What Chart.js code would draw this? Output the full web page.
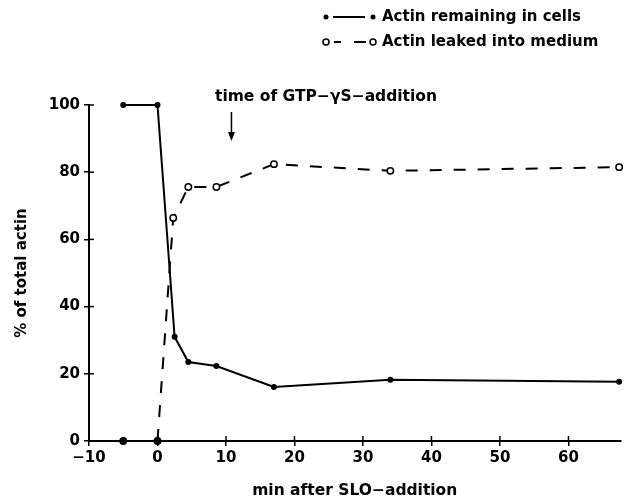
<!DOCTYPE html>
<html>
<head>
<meta charset="utf-8">
<script src="https://cdn.jsdelivr.net/npm/chart.js@4"></script>
<style>
  html, body { margin: 0; padding: 0; background: #fff; }
  #wrap { width: 626px; height: 502px; }
</style>
</head>
<body>
<div id="wrap"><canvas id="actinChart"></canvas></div>
<script>
// Дані
const cellTimes = [-5, 0, 2.5, 4.5, 8.6, 17, 34, 67.4];
const cellActin = [100, 100, 31, 23.5, 22.3, 16.1, 18.2, 17.6];
const mediumTimes = [-5, 0, 2.3, 4.5, 8.6, 17, 34, 67.4];
const mediumActin = [0, 0, 66.4, 75.6, 75.6, 82.4, 80.4, 81.5];
const xTicks = [-10, 0, 10, 20, 30, 40, 50, 60];
const yTicks = [0, 20, 40, 60, 80, 100];
const gtpTime = 10.8;

const FONT = '"DejaVu Sans", sans-serif';
const minus = v => String(v).replace('-', '\u2212');

// Легенда та підпис стрілки
const decorPlugin = {
    id: 'decor',
    afterDraw(chart) {
        const ctx = chart.ctx;
        const x = chart.scales.x;
        const y = chart.scales.y;
        ctx.save();
        ctx.fillStyle = '#000';
        ctx.strokeStyle = '#000';
        ctx.font = 'bold 15px ' + FONT;
        ctx.textBaseline = 'middle';
        ctx.textAlign = 'left';

        // рядок 1
        ctx.lineWidth = 2;
        ctx.beginPath(); ctx.arc(326, 17, 2.5, 0, Math.PI * 2); ctx.fill();
        ctx.beginPath(); ctx.moveTo(333, 17); ctx.lineTo(365, 17); ctx.stroke();
        ctx.beginPath(); ctx.arc(373, 17, 2.5, 0, Math.PI * 2); ctx.fill();
        ctx.fillText('Actin remaining in cells', 382, 17);

        // рядок 2
        ctx.lineWidth = 1.5;
        ctx.beginPath(); ctx.arc(326, 42, 3, 0, Math.PI * 2); ctx.stroke();
        ctx.lineWidth = 2;
        ctx.beginPath(); ctx.moveTo(334, 42); ctx.lineTo(341, 42); ctx.stroke();
        ctx.beginPath(); ctx.moveTo(354, 42); ctx.lineTo(366, 42); ctx.stroke();
        ctx.lineWidth = 1.5;
        ctx.beginPath(); ctx.arc(373, 42, 3, 0, Math.PI * 2); ctx.stroke();
        ctx.fillText('Actin leaked into medium', 382, 42);

        // стрілка
        const ax = x.getPixelForValue(gtpTime);
        ctx.font = 'bold 15.5px ' + FONT;
        ctx.fillText('time of GTP\u2212\u03b3S\u2212addition', 215, 97);
        ctx.lineWidth = 1.5;
        ctx.beginPath(); ctx.moveTo(ax, 112); ctx.lineTo(ax, 136); ctx.stroke();
        ctx.beginPath();
        ctx.moveTo(ax - 3.5, 132); ctx.lineTo(ax + 3.5, 132); ctx.lineTo(ax, 141);
        ctx.closePath(); ctx.fill();

        // внутрішні частини засічок
        ctx.lineWidth = 1.5;
        yTicks.forEach(v => {
            const py = y.getPixelForValue(v);
            ctx.beginPath(); ctx.moveTo(x.left, py); ctx.lineTo(x.left + 5, py); ctx.stroke();
        });
        xTicks.forEach(v => {
            const px = x.getPixelForValue(v);
            ctx.beginPath(); ctx.moveTo(px, y.bottom); ctx.lineTo(px, y.bottom - 5); ctx.stroke();
        });
        ctx.restore();
    }
};

new Chart(document.getElementById('actinChart'), {
    type: 'scatter',
    data: {
        datasets: [{
            label: 'Actin remaining in cells',
            data: cellTimes.map((t, i) => ({ x: t, y: cellActin[i] })),
            showLine: true,
            borderColor: '#000',
            borderWidth: 2,
            pointRadius: 3,
            pointBackgroundColor: '#000',
            pointBorderColor: '#000',
            pointBorderWidth: 0,
            tension: 0,
            clip: false
        }, {
            label: 'Actin leaked into medium',
            data: mediumTimes.map((t, i) => ({ x: t, y: mediumActin[i] })),
            showLine: true,
            borderColor: '#000',
            borderWidth: 2,
            borderDash: [12, 12],
            segment: {
                borderColor: c => c.p0DataIndex === 0 ? 'rgba(0,0,0,0)' : '#000'
            },
            pointRadius: 3.2,
            pointBackgroundColor: mediumActin.map((v, i) => i < 2 ? '#000' : '#fff'),
            pointBorderColor: '#000',
            pointBorderWidth: 1.5,
            tension: 0,
            clip: false
        }]
    },
    options: {
        responsive: true,
        maintainAspectRatio: false,
        animation: false,
        layout: { padding: { top: 105, right: 3, left: 0, bottom: 0 } },
        plugins: {
            legend: { display: false },
            tooltip: { enabled: false }
        },
        scales: {
            x: {
                type: 'linear',
                min: -10,
                max: 67.6,
                afterFit: s => { s.height = 61; },
                afterBuildTicks: s => { s.ticks = xTicks.map(v => ({ value: v })); },
                border: { display: true, color: '#000', width: 2 },
                grid: { drawOnChartArea: false, color: '#000', lineWidth: 1.5, tickLength: 5 },
                ticks: {
                    color: '#000',
                    font: { family: FONT, size: 15, weight: 'bold' },
                    padding: 3,
                    autoSkip: false,
                    maxRotation: 0,
                    callback: v => minus(v)
                },
                title: {
                    display: true,
                    text: 'min after SLO\u2212addition',
                    color: '#000',
                    font: { family: FONT, size: 15.5, weight: 'bold' },
                    padding: { top: 4, bottom: 2 }
                }
            },
            y: {
                min: 0,
                max: 100,
                afterFit: s => { s.width = 89; },
                afterBuildTicks: s => { s.ticks = yTicks.map(v => ({ value: v })); },
                border: { display: true, color: '#000', width: 2 },
                grid: { drawOnChartArea: false, color: '#000', lineWidth: 1.5, tickLength: 5 },
                ticks: {
                    color: '#000',
                    font: { family: FONT, size: 15, weight: 'bold' },
                    padding: 4
                },
                title: {
                    display: true,
                    text: '% of total actin',
                    color: '#000',
                    font: { family: FONT, size: 15, weight: 'bold' },
                    padding: { top: 13, bottom: 0 }
                }
            }
        }
    },
    plugins: [decorPlugin]
});
</script>
</body>
</html>
